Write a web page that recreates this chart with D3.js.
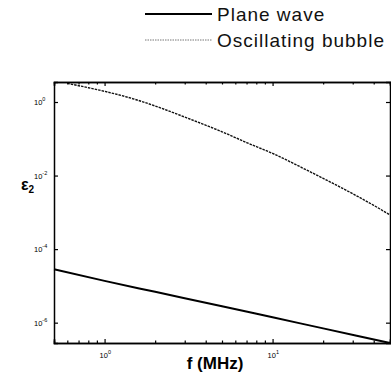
<!DOCTYPE html>
<html>
<head>
<meta charset="utf-8">
<script src="https://cdn.jsdelivr.net/npm/d3@7"></script>
<style>
  body { margin: 0; background: #fff; }
  svg { display: block; font-family: "Liberation Sans", Arial, sans-serif; }
</style>
</head>
<body>
<svg id="chart" width="391" height="378"></svg>
<script>
// frequency (MHz) and E2 values
const freqs = [0.6, 0.8, 1, 1.5, 2, 3, 5, 7, 10, 15, 20, 30, 40, 50];
const bubble = [3.2, 2.45, 1.95, 1.2, 0.78, 0.39, 0.155, 0.079, 0.040, 0.0163, 0.0084, 0.0032, 0.00155, 0.00085];
const planeFreqs = [0.5, 1, 2, 5, 10, 20, 50];
const plane = [2.85e-5, 1.37e-5, 6.9e-6, 2.8e-6, 1.4e-6, 7.0e-7, 2.8e-7];
const xMajor = [1, 10];
const xMinor = [0.6, 0.7, 0.8, 0.9, 2, 3, 4, 5, 6, 7, 8, 9, 20, 30, 40, 50];
const yMajor = [1, 1e-2, 1e-4, 1e-6];
const legendNames = ["Plane wave", "Oscillating bubble"];

const margin = { top: 82, right: 1, bottom: 35, left: 54 };
const width = 391, height = 378;

const svg = d3.select("#chart");

const x = d3.scaleLog().domain([0.5, 50]).range([margin.left, width - margin.right]);
const y = d3.scaleLog().domain([2.8e-7, 3.5]).range([height - margin.bottom, margin.top]);

const line = d3.line()
  .x(d => x(d[0]))
  .y(d => y(d[1]))
  .curve(d3.curveMonotoneX);

// curves
svg.append("path")
  .attr("d", line(d3.zip(planeFreqs, plane)))
  .attr("fill", "none")
  .attr("stroke", "#000")
  .attr("stroke-width", 2);

svg.append("path")
  .attr("d", line(d3.zip(freqs, bubble)))
  .attr("fill", "none")
  .attr("stroke", "#111")
  .attr("stroke-width", 1.4)
  .attr("stroke-dasharray", "2.5,1");

// axes (ticks inside the box)
const fmtExp = (g, vals, scale, horiz) => {
  vals.forEach(v => {
    const e = Math.round(Math.log10(v));
    const t = g.append("text")
      .attr("font-size", 7.5)
      .attr("fill", "#000");
    if (horiz) {
      t.attr("x", scale(v) - 5).attr("y", height - margin.bottom + 15);
    } else {
      t.attr("x", margin.left - 20).attr("y", scale(v) + 3);
    }
    t.append("tspan").text("10");
    t.append("tspan").attr("dy", -4).attr("font-size", 5.5).text(e);
  });
};

const bottomAxis = svg.append("g")
  .attr("transform", `translate(0,${height - margin.bottom})`)
  .call(d3.axisBottom(x).tickValues(xMajor).tickSize(-4).tickFormat(""));
bottomAxis.append("g").call(d3.axisBottom(x).tickValues(xMinor).tickSize(-2.5).tickFormat(""));

const topAxis = svg.append("g")
  .attr("transform", `translate(0,${margin.top})`)
  .call(d3.axisTop(x).tickValues(xMajor).tickSize(-4).tickFormat(""));
topAxis.append("g").call(d3.axisTop(x).tickValues(xMinor).tickSize(-2.5).tickFormat(""));

svg.append("g")
  .attr("transform", `translate(${margin.left},0)`)
  .call(d3.axisLeft(y).tickValues(yMajor).tickSize(-4).tickFormat(""));

svg.append("g")
  .attr("transform", `translate(${width - margin.right},0)`)
  .call(d3.axisRight(y).tickValues(yMajor).tickSize(-4).tickFormat(""));

svg.selectAll(".domain").attr("stroke-width", 1.5).attr("stroke", "#000");
svg.selectAll(".tick line").attr("stroke", "#000").attr("stroke-width", 1.2);

const labels = svg.append("g");
fmtExp(labels, xMajor, x, true);
fmtExp(labels, yMajor, y, false);

// axis titles
svg.append("text")
  .attr("x", 215)
  .attr("y", height - 9)
  .attr("text-anchor", "middle")
  .attr("font-size", 17)
  .attr("font-weight", "bold")
  .text("f (MHz)");

const yl = svg.append("text")
  .attr("x", 21)
  .attr("y", 190)
  .attr("font-size", 16)
  .attr("font-weight", "bold");
yl.append("tspan").text("ε");
yl.append("tspan").attr("dy", 3).attr("font-size", 10).text("2");

// legend
const legend = svg.append("g");
legendNames.forEach((name, i) => {
  const ly = 14 + i * 26;
  legend.append("line")
    .attr("x1", 145).attr("x2", 212)
    .attr("y1", ly).attr("y2", ly)
    .attr("stroke", i === 0 ? "#000" : "#777")
    .attr("stroke-width", i === 0 ? 2 : 1)
    .attr("stroke-dasharray", i === 0 ? null : "1.5,1");
  legend.append("text")
    .attr("x", 217)
    .attr("y", ly + 7)
    .attr("font-size", 19)
    .attr("letter-spacing", 1)
    .attr("fill", "#111")
    .text(name);
});
</script>
</body>
</html>
